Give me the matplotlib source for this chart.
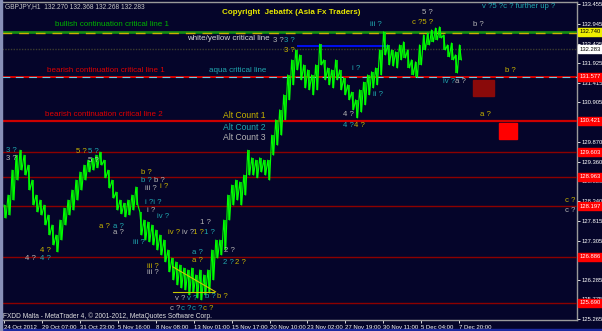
import matplotlib.pyplot as plt
import numpy as np
from matplotlib.patches import Rectangle

W, H = 602, 331
BG = "#05052a"
GREEN = "#00ff00"
OLIVE = "#c8b400"
TEAL = "#20a8b0"
GRAY = "#b4b4b4"
RED = "#e00000"

plt.rcParams["font.family"] = ["Liberation Sans Narrow", "Liberation Sans", "DejaVu Sans"]

# GBPJPY H1 - high / low of consecutive ~7 bar groups
price_high = [
    128.23, 128.49, 129.14, 129.53, 129.66, 129.53, 129.27, 128.88, 128.49, 128.36,
    128.23, 127.97, 127.71, 127.45, 127.84, 128.15, 128.36, 128.62, 128.88, 129.09,
    129.27, 129.40, 129.46, 129.53, 129.61, 129.40, 129.14, 128.88, 128.57, 128.36,
    128.28, 128.36, 128.49, 128.70, 128.05, 127.84, 127.79, 127.71, 127.58, 127.45,
    127.32, 127.06, 126.85, 126.75, 126.67, 126.59, 126.54, 126.59, 126.41, 126.54,
    126.41, 126.54, 127.06, 127.32, 127.32, 127.84, 128.49, 128.75, 128.88, 128.83,
    129.01, 129.66, 129.46, 129.40, 129.46, 129.40, 129.40, 130.05, 130.45, 130.71,
    131.10, 131.62, 132.01, 132.27, 132.14, 131.88, 131.75, 131.62, 131.88, 132.42,
    132.01, 131.80, 131.75, 132.01, 131.75, 131.54, 131.36, 131.17, 130.97, 131.23,
    131.43, 131.62, 131.70, 131.80, 132.27, 132.74, 132.40, 132.27, 132.22, 132.40,
    132.48, 132.27, 132.01, 131.96, 132.40, 132.66, 132.71, 132.79, 132.84, 132.87,
    132.66, 132.40, 132.45, 132.14, 132.40,
]
price_low = [
    127.89, 127.97, 128.36, 128.88, 129.14, 129.01, 128.62, 128.23, 128.05, 127.97,
    127.71, 127.45, 127.19, 127.01, 127.32, 127.71, 127.97, 128.10, 128.36, 128.62,
    128.88, 129.09, 129.14, 129.20, 129.27, 128.94, 128.67, 128.41, 128.10, 128.00,
    127.92, 127.97, 128.10, 128.23, 127.45, 127.32, 127.27, 127.19, 127.06, 126.93,
    126.75, 126.49, 126.28, 126.15, 126.07, 126.02, 125.89, 125.97, 125.81, 125.76,
    125.89, 125.94, 126.28, 126.85, 126.93, 127.06, 127.84, 128.23, 128.36, 128.23,
    128.49, 129.01, 129.01, 128.94, 129.09, 129.01, 128.88, 129.53, 129.79, 130.05,
    130.45, 130.97, 131.36, 131.75, 131.49, 131.28, 131.23, 131.10, 131.23, 131.88,
    131.49, 131.36, 131.28, 131.49, 131.23, 131.10, 130.97, 130.71, 130.50, 130.65,
    130.84, 131.10, 131.28, 131.36, 131.62, 132.14, 131.88, 131.85, 131.80, 132.01,
    132.06, 131.80, 131.62, 131.56, 131.88, 132.27, 132.40, 132.48, 132.53, 132.58,
    132.27, 132.09, 132.01, 131.67, 132.01,
]
group_bars = 6.74  # H1 bars per group

date_labels = [
    "24 Oct 2012", "29 Oct 07:00", "31 Oct 23:00", "5 Nov 16:00", "8 Nov 08:00",
    "13 Nov 01:00", "15 Nov 17:00", "20 Nov 10:00", "23 Nov 02:00", "27 Nov 19:00",
    "30 Nov 11:00", "5 Dec 04:00", "7 Dec 20:00",
]
bars_per_label = 64

# 130.395 and 126.795 sit under price tags, so they are left out
price_ticks = [
    133.455, 132.945, 132.435, 131.925, 131.415, 130.905, 129.870, 129.360,
    128.850, 128.340, 127.815, 127.305, 126.285, 125.775, 125.265,
]

# horizontal levels drawn on the chart
bull_line = 132.740
bid_price = 132.283
blue_line = 132.37
bear_line_1 = 131.577
bear_line_2 = 130.421
minor_levels = [129.603, 128.963, 128.197, 126.886, 125.690]

fig = plt.figure(figsize=(W / 100, H / 100), dpi=100, facecolor=BG)
ax = fig.add_axes([2 / W, 11 / H, 575 / W, 318 / H], facecolor=BG)

px_per_bar = 38 / 64
ax.set_xlim(-1 / px_per_bar - 1.7, 574 / px_per_bar)
ax.set_ylim(125.237, 133.518)

# price bars
x = 1.7 + group_bars * np.arange(len(price_high))
hi = np.array(price_high)
lo = np.array(price_low)
ax.vlines(x, lo, hi, color=GREEN, lw=1.1, zorder=5)
zx = np.column_stack([x - group_bars / 4, x + group_bars / 4]).ravel()
zy = np.column_stack([hi, lo]).ravel()
ax.plot(zx, zy, color=GREEN, lw=0.8, zorder=5)

# critical lines
ax.axhline(bull_line, color="#138a13", lw=2.0, zorder=3)
ax.axhline(bull_line - 0.03, color="#c8b400", lw=1.0, dashes=(7, 5), zorder=3)
ax.axhline(bid_price, color="#3c3c30", lw=1.0, ls=(0, (1, 1)), zorder=2)
ax.hlines(blue_line, 494, 650, color="#0010ff", lw=1.3, zorder=4)
ax.axhline(bear_line_1, color="#d00000", lw=1.4, zorder=3)
ax.axhline(bear_line_1, color="#70c8e0", lw=0.8, dashes=(7, 5), zorder=3)
ax.axhline(bear_line_2, color="#cc0000", lw=1.6, zorder=3)
for lvl in minor_levels:
    ax.axhline(lvl, color="#8c0000", lw=1.0, zorder=3)

# triangle
ax.plot([285, 357], [126.62, 125.97], color="#c8c800", lw=0.8, zorder=6)
ax.plot([285, 355], [125.97, 125.97], color="#c8c800", lw=0.8, zorder=6)

# boxes
ax.add_patch(Rectangle((792, 131.07), 34, 0.42, color="#8a0a0a", zorder=4))
ax.add_patch(Rectangle((835, 129.95), 30, 0.42, color="#ff0000", zorder=4))

# axes look
ax.spines["left"].set_visible(False)
for side in ["right", "bottom", "top"]:
    ax.spines[side].set_color("#9a9a9a")
    ax.spines[side].set_linewidth(1.0)
ax.yaxis.tick_right()
ax.set_yticks(price_ticks)
ax.set_yticklabels([f"{p:.3f}" for p in price_ticks])
ax.tick_params(axis="y", colors="white", labelsize=4.2, length=2, pad=1.2, width=0.6)
ax.set_xticks([i * bars_per_label for i in range(len(date_labels))])
ax.set_xticklabels(date_labels, ha="left")
ax.tick_params(axis="x", colors="white", labelsize=4.3, length=2, pad=1.5, width=0.6)


def label(px, py, s, color, size=4.8, **kw):
    fig.text(px / W, 1 - py / H, s, color=color, fontsize=size, va="center", ha="left", **kw)


# price tags on the axis
tags = [
    (bull_line, "#f0f000", "black"),
    (bid_price, "#ffffff", "black"),
    (bear_line_1, "#ff0000", "white"),
    (bear_line_2, "#ff0000", "white"),
] + [(lvl, "#ff0000", "white") for lvl in minor_levels]
for price, fc, tc in tags:
    py = (133.570 - price) / 0.02604
    fig.patches.append(Rectangle((578 / W, 1 - (py + 4) / H), 24 / W, 8 / H,
                                 transform=fig.transFigure, color=fc, zorder=10))
    label(579.5, py, f"{price:.3f}", tc, size=4.2, zorder=11)

# header and line captions
label(5, 7, "GBPJPY,H1  132.270 132.368 132.268 132.283", "#c8c8c8", 4.8)
label(222, 13, "Copyright  Jebatfx (Asia Fx Traders)", "#e6e600", 5.8, fontweight="bold")
label(55, 25, "bullish continuation critical line 1", "#00b400", 5.8)
label(187, 38, "white/yellow critical line", "#d8d8d8", 5.8)
label(47, 71, "bearish continuation critical line 1", RED, 5.8)
label(209, 70, "aqua critical line", TEAL, 5.8)
label(45, 115, "bearish continuation critical line 2", RED, 5.8)
label(223, 116, "Alt Count 1", OLIVE, 6.2)
label(223, 127, "Alt Count 2", TEAL, 6.2)
label(223, 137, "Alt Count 3", GRAY, 6.2)
label(3, 316, "FXDD Malta - MetaTrader 4, \u00a9 2001-2012, MetaQuotes Software Corp.", "#e0e0e0", 4.8)

# wave labels
waves = [
    (273, 41, "3 ?", GRAY), (284, 41, "3 ?", TEAL), (284, 50, "3 ?", OLIVE),
    (370, 24, "iii ?", TEAL), (352, 69, "i ?", TEAL), (373, 94, "ii ?", TEAL),
    (422, 13, "5 ?", GRAY), (412, 23, "c ?5 ?", OLIVE),
    (482, 7, "v ?5 ?c ? further up ?", TEAL), (473, 25, "b ?", GRAY),
    (505, 70, "b ?", OLIVE), (443, 82, "iv ?", TEAL), (455, 82, "a ?", GRAY),
    (343, 114, "4 ?", GRAY), (343, 125, "4 ?", TEAL), (354, 125, "4 ?", OLIVE),
    (480, 115, "a ?", OLIVE),
    (6, 150, "3 ?", TEAL), (6, 158, "3 ?", GRAY),
    (76, 152, "5 ?", OLIVE), (88, 152, "5 ?", TEAL), (88, 160, "5 ?", GRAY),
    (141, 173, "b ?", OLIVE), (141, 181, "b ?", TEAL), (154, 181, "b ?", GRAY),
    (145, 189, "iii ?", GRAY), (160, 187, "i ?", OLIVE), (145, 202, "i ?i ?", TEAL),
    (147, 210, "i ?", GRAY), (157, 217, "iv ?", TEAL),
    (99, 226, "a ?", OLIVE), (113, 226, "a ?", TEAL), (113, 233, "a ?", GRAY),
    (133, 243, "iii ?", TEAL),
    (40, 250, "4 ?", OLIVE), (25, 258, "4 ?", GRAY), (40, 258, "4 ?", TEAL),
    (147, 266, "iii ?", OLIVE), (147, 273, "iii ?", GRAY),
    (168, 233, "iv ?", OLIVE), (182, 233, "iv ?", GRAY), (193, 233, "1 ?", OLIVE),
    (200, 223, "1 ?", GRAY), (204, 233, "1 ?", TEAL),
    (192, 253, "a ?", TEAL), (192, 261, "a ?", OLIVE),
    (175, 299, "v ?", GRAY), (187, 299, "v ?", TEAL),
    (170, 308, "c ?", GRAY), (181, 308, "c ?", TEAL), (192, 308, "c ?", TEAL),
    (203, 308, "c ?", OLIVE),
    (205, 297, "b ?", TEAL), (217, 297, "b ?", OLIVE),
    (224, 250, "2 ?", GRAY), (223, 262, "2 ?", TEAL), (235, 262, "2 ?", OLIVE),
    (565, 200, "c ?", OLIVE), (565, 210, "c ?", GRAY),
]
for px, py, s, c in waves:
    label(px, py, s, c, 5.6)

# window frame
fig.patches.append(Rectangle((0, 0), 1, 2 / H, transform=fig.transFigure, color="#1c2aa0"))
fig.patches.append(Rectangle((0, 0), 1.5 / W, 1, transform=fig.transFigure, color="#8890b8"))

fig.savefig("out.png", dpi=100, facecolor=BG)
